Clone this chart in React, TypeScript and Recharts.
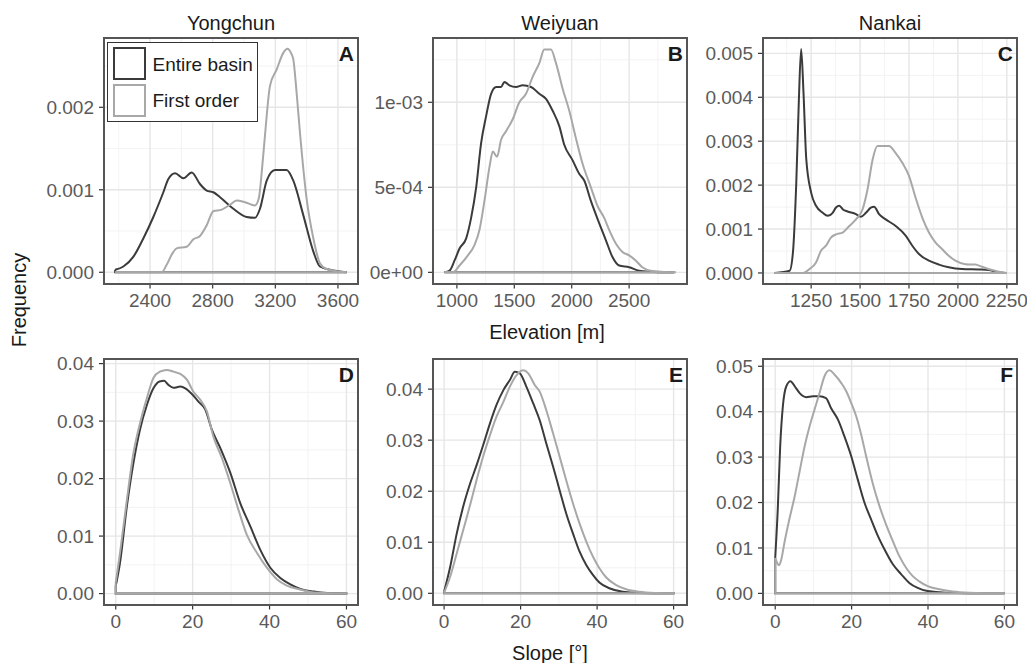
import { CartesianGrid, Line, LineChart, XAxis, YAxis } from "recharts"

type Pair = [number, number]
type Pt = { x: number; y: number }

const basinNames = ["Yongchun", "Weiyuan", "Nankai"]
const seriesNames = ["Entire basin", "First order"]
const panelLetters = ["A", "B", "C", "D", "E", "F"]

// elevation densities (x in m)
const yongchunElevBasin: Pair[] = [
  [2177, 0.00003], [2230, 0.00007], [2294, 0.00019], [2357, 0.00041], [2421, 0.00067],
  [2485, 0.00097], [2517, 0.00113], [2560, 0.0012], [2613, 0.00114], [2666, 0.00121],
  [2719, 0.00107], [2762, 0.00099], [2804, 0.00097], [2847, 0.00091], [2932, 0.00077],
  [3017, 0.00067], [3070, 0.00066], [3102, 0.00077], [3145, 0.00111], [3198, 0.00124],
  [3272, 0.00124], [3315, 0.00111], [3379, 0.00069], [3443, 0.00025], [3485, 0.00007],
  [3549, 0.00003], [3655, 0],
]
const yongchunElevFirst: Pair[] = [
  [2177, 0], [2474, 0], [2506, 0.00009], [2540, 0.00022], [2570, 0.00029], [2634, 0.00031],
  [2677, 0.0004], [2719, 0.00044], [2762, 0.00057], [2804, 0.00074], [2858, 0.00076],
  [2911, 0.00082], [2953, 0.00087], [3006, 0.00085], [3070, 0.00081], [3095, 0.0009],
  [3115, 0.00125], [3134, 0.00166], [3166, 0.00226], [3209, 0.00246], [3251, 0.00266],
  [3277, 0.00271], [3300, 0.00266], [3315, 0.00258], [3335, 0.0022], [3357, 0.0017],
  [3400, 0.00089], [3443, 0.00041], [3485, 0.00011], [3528, 0.00004], [3655, 0],
]
const weiyuanElevBasin: Pair[] = [
  [893, 0], [936, 0.00001], [980, 0.00007], [1023, 0.00014], [1081, 0.0002], [1124, 0.00032],
  [1168, 0.0005], [1211, 0.00076], [1255, 0.00092], [1298, 0.00105], [1342, 0.00109],
  [1385, 0.00109], [1414, 0.00112], [1457, 0.0011], [1515, 0.00109], [1573, 0.0011],
  [1646, 0.00109], [1718, 0.00105], [1776, 0.00102], [1834, 0.00095], [1892, 0.00086],
  [1935, 0.00075], [2007, 0.00066], [2065, 0.00058], [2109, 0.00054], [2167, 0.00042],
  [2239, 0.00029], [2297, 0.00019], [2355, 0.00009], [2413, 0.00004], [2500, 0.00003],
  [2586, 0.00001], [2673, 0.000004], [2890, 0],
]
const weiyuanElevFirst: Pair[] = [
  [893, 0], [965, 0], [1023, 0.00004], [1096, 0.0001], [1153, 0.00016], [1197, 0.00025],
  [1240, 0.00042], [1284, 0.00062], [1313, 0.00071], [1350, 0.00068], [1385, 0.00078],
  [1428, 0.00083], [1486, 0.0009], [1544, 0.001], [1602, 0.00105], [1660, 0.00115],
  [1718, 0.00123], [1761, 0.00131], [1819, 0.00131], [1863, 0.00123], [1921, 0.00108],
  [1979, 0.00095], [2036, 0.00079], [2094, 0.00064], [2167, 0.0005], [2225, 0.00039],
  [2283, 0.00032], [2326, 0.00025], [2384, 0.00017], [2442, 0.00012], [2500, 0.0001],
  [2557, 0.00007], [2615, 0.00003], [2688, 0.00001], [2905, 0],
]
const nankaiElevBasin: Pair[] = [
  [1064, 0], [1140, 0.00005], [1157, 0.00047], [1174, 0.00205], [1187, 0.0039], [1199, 0.0051],
  [1211, 0.0041], [1225, 0.0026], [1250, 0.00183], [1275, 0.00153], [1309, 0.00137],
  [1335, 0.0013], [1360, 0.00137], [1377, 0.00149], [1394, 0.00153], [1414, 0.00144],
  [1436, 0.0014], [1479, 0.00134], [1504, 0.00128], [1530, 0.00137], [1555, 0.00149],
  [1572, 0.00151], [1597, 0.00134], [1631, 0.00122], [1682, 0.00107], [1733, 0.00085],
  [1767, 0.00062], [1801, 0.00043], [1852, 0.00028], [1903, 0.00019], [1953, 0.00013],
  [2021, 0.00009], [2106, 0.00008], [2157, 0.00007], [2200, 0.00002], [2240, 0],
]
const nankaiElevFirst: Pair[] = [
  [1064, 0], [1208, 0], [1242, 0.00009], [1275, 0.00024], [1301, 0.00051], [1326, 0.00062],
  [1352, 0.00081], [1377, 0.00088], [1411, 0.00092], [1445, 0.00107], [1479, 0.00122],
  [1513, 0.00145], [1538, 0.0019], [1564, 0.00258], [1589, 0.00289], [1623, 0.00289],
  [1648, 0.00289], [1682, 0.00273], [1716, 0.00251], [1750, 0.00221], [1784, 0.00171],
  [1818, 0.00126], [1852, 0.00092], [1886, 0.00069], [1920, 0.00054], [1953, 0.00039],
  [1987, 0.00028], [2038, 0.0002], [2089, 0.00019], [2123, 0.00014], [2165, 0.00008],
  [2208, 0.00003], [2250, 0],
]

// slope densities (x in degrees)
const yongchunSlopeBasin: Pair[] = [
  [0, 0.0013], [1.1, 0.0053], [2.9, 0.0152], [4.6, 0.0227], [6.3, 0.0285], [8.1, 0.0328],
  [9.8, 0.0357], [11.4, 0.0369], [12.6, 0.037], [13.7, 0.0363], [15.0, 0.0358], [16.8, 0.036],
  [18.1, 0.0357], [19.8, 0.0347], [21.5, 0.0334], [23.3, 0.032], [25.0, 0.0285], [27.2, 0.0253],
  [29.8, 0.021], [32.4, 0.0157], [35.0, 0.0117], [37.6, 0.0076], [40.2, 0.0045], [42.8, 0.0027],
  [45.4, 0.0016], [48.0, 0.0008], [51.5, 0.00035], [55, 0.0001], [60.2, 0],
]
const yongchunSlopeFirst: Pair[] = [
  [0, 0.0019], [1.1, 0.007], [2.9, 0.0163], [4.6, 0.0244], [6.3, 0.0296], [8.1, 0.034],
  [9.8, 0.0375], [11.5, 0.0386], [13.3, 0.0389], [15.0, 0.0386], [16.8, 0.0382], [18.5, 0.0372],
  [20.2, 0.0351], [22.0, 0.0337], [23.7, 0.0317], [25.4, 0.0273], [27.6, 0.0236], [29.8, 0.0192],
  [31.9, 0.0146], [34.1, 0.0102], [36.7, 0.0071], [39.3, 0.0045], [41.9, 0.0025], [44.5, 0.0014],
  [48.0, 0.0007], [51.5, 0.0002], [60.2, 0],
]
const weiyuanSlopeBasin: Pair[] = [
  [0, 0.0003], [1.6, 0.0052], [3.3, 0.0117], [5.0, 0.017], [6.8, 0.0215], [8.5, 0.0251],
  [10.2, 0.029], [12.0, 0.0333], [13.7, 0.0369], [15.5, 0.0398], [17.2, 0.0418], [18.5, 0.0434],
  [19.8, 0.0431], [21.5, 0.0405], [23.3, 0.0372], [25.0, 0.0339], [26.7, 0.0294], [28.5, 0.0248],
  [30.2, 0.0202], [31.9, 0.0157], [33.7, 0.0117], [35.4, 0.0082], [37.2, 0.0055], [38.9, 0.0036],
  [40.6, 0.0021], [43.2, 0.001], [46.7, 0.0003], [51, 0.00007], [60.2, 0],
]
const weiyuanSlopeFirst: Pair[] = [
  [0, 0.0001], [1.6, 0.0033], [3.3, 0.0078], [5.0, 0.0124], [6.8, 0.0173], [8.5, 0.0222],
  [10.2, 0.0268], [12.0, 0.031], [13.7, 0.0346], [15.5, 0.0375], [17.2, 0.0405], [18.9, 0.0427],
  [20.7, 0.0437], [22.0, 0.0431], [23.7, 0.0408], [25.0, 0.0395], [26.7, 0.0359], [28.5, 0.0313],
  [30.2, 0.0268], [31.9, 0.0222], [33.7, 0.0176], [35.4, 0.0137], [37.2, 0.0101], [38.9, 0.0072],
  [40.6, 0.0049], [42.4, 0.0031], [45.0, 0.0016], [47.6, 0.0008], [51, 0.0003], [55.4, 0.00007],
  [60.2, 0],
]
const nankaiSlopeBasin: Pair[] = [
  [0, 0.0078], [0.7, 0.0192], [1.3, 0.0324], [2.0, 0.0412], [2.9, 0.0456], [4.0, 0.0467],
  [5.1, 0.0456], [6.4, 0.0441], [8.1, 0.0432], [9.9, 0.0434], [11.6, 0.0434], [13.3, 0.043],
  [14.6, 0.0408], [16.4, 0.0383], [18.1, 0.0346], [19.9, 0.0302], [21.6, 0.0251], [23.4, 0.0199],
  [25.1, 0.0163], [26.9, 0.0126], [28.6, 0.0097], [30.8, 0.0064], [33.0, 0.0042], [35.1, 0.0023],
  [37.3, 0.0012], [39.9, 0.0005], [44.7, 0.00015], [60, 0],
]
const nankaiSlopeFirst: Pair[] = [
  [0, 0.0078], [0.4, 0.0069], [1.0, 0.0062], [1.6, 0.0075], [2.4, 0.0111], [3.7, 0.0163],
  [5.1, 0.0214], [6.4, 0.0269], [7.7, 0.0324], [9.0, 0.0368], [10.3, 0.0405], [11.6, 0.0441],
  [12.9, 0.0478], [14.2, 0.0491], [15.5, 0.0482], [17.3, 0.0463], [18.6, 0.0445], [19.9, 0.0419],
  [21.2, 0.039], [22.5, 0.035], [23.8, 0.0302], [25.5, 0.0243], [27.3, 0.0192], [29.0, 0.0152],
  [30.8, 0.0115], [32.5, 0.0082], [34.3, 0.0056], [36.0, 0.0038], [37.8, 0.0026], [39.9, 0.0016],
  [43.0, 0.0009], [46.5, 0.0004], [50.8, 0.00015], [60, 0],
]

// axis ticks
const yongchunElevXTicks = [2400, 2800, 3200, 3600]
const yongchunElevXMinor = [2200, 2600, 3000, 3400]
const yongchunElevYTicks = [0, 0.001, 0.002]
const yongchunElevYMinor = [0.0005, 0.0015, 0.0025]
const weiyuanElevXTicks = [1000, 1500, 2000, 2500]
const weiyuanElevXMinor = [1250, 1750, 2250, 2750]
const weiyuanElevYTicks = [0, 0.0005, 0.001]
const weiyuanElevYMinor = [0.00025, 0.00075, 0.00125]
const nankaiElevXTicks = [1250, 1500, 1750, 2000, 2250]
const nankaiElevXMinor = [1125, 1375, 1625, 1875, 2125]
const nankaiElevYTicks = [0, 0.001, 0.002, 0.003, 0.004, 0.005]
const nankaiElevYMinor = [0.0005, 0.0015, 0.0025, 0.0035, 0.0045]
const slopeXTicks = [0, 20, 40, 60]
const slopeXMinor = [10, 30, 50]
const slopeYTicks = [0, 0.01, 0.02, 0.03, 0.04]
const slopeYMinor = [0.005, 0.015, 0.025, 0.035]
const nankaiSlopeYTicks = [0, 0.01, 0.02, 0.03, 0.04, 0.05]
const nankaiSlopeYMinor = [0.005, 0.015, 0.025, 0.035, 0.045]

const DARK = "#3b3b3b"
const LIGHT = "#a8a8a8"
const FONT = '"Liberation Sans", Arial, Helvetica, sans-serif'

function sci(v: number) {
  if (v === 0) return "0e+00"
  const e = Math.floor(Math.log10(v) + 1e-9)
  const m = Math.round(v / Math.pow(10, e))
  const a = Math.abs(e)
  return `${m}e${e < 0 ? "-" : "+"}${a < 10 ? "0" + a : a}`
}

const fixed = (d: number) => (v: number) => v.toFixed(d)

type PanelDef = {
  letter: string
  basin: Pair[]
  first: Pair[]
  xDomain: [number, number]
  yDomain: [number, number]
  xTicks: number[]
  xMinor: number[]
  yTicks: number[]
  yMinor: number[]
  yFmt: (v: number) => string
  box: { x: number; y: number; w: number; h: number }
}

const colX = [104, 433, 763]
const rowY = [38.3, 359.3]
const PW = 254
const PH = 245.5

const panels: PanelDef[] = [
  {
    letter: panelLetters[0], basin: yongchunElevBasin, first: yongchunElevFirst,
    xDomain: [2106, 3728], yDomain: [-0.000136, 0.00284],
    xTicks: yongchunElevXTicks, xMinor: yongchunElevXMinor, yTicks: yongchunElevYTicks, yMinor: yongchunElevYMinor,
    yFmt: fixed(3), box: { x: colX[0], y: rowY[0], w: PW, h: PH },
  },
  {
    letter: panelLetters[1], basin: weiyuanElevBasin, first: weiyuanElevFirst,
    xDomain: [792, 3004], yDomain: [-0.0000656, 0.001378],
    xTicks: weiyuanElevXTicks, xMinor: weiyuanElevXMinor, yTicks: weiyuanElevYTicks, yMinor: weiyuanElevYMinor,
    yFmt: sci, box: { x: colX[1], y: rowY[0], w: PW, h: PH },
  },
  {
    letter: panelLetters[2], basin: nankaiElevBasin, first: nankaiElevFirst,
    xDomain: [1004, 2302], yDomain: [-0.00024, 0.00535],
    xTicks: nankaiElevXTicks, xMinor: nankaiElevXMinor, yTicks: nankaiElevYTicks, yMinor: nankaiElevYMinor,
    yFmt: fixed(3), box: { x: colX[2], y: rowY[0], w: PW, h: PH },
  },
  {
    letter: panelLetters[3], basin: yongchunSlopeBasin, first: yongchunSlopeFirst,
    xDomain: [-3.05, 63], yDomain: [-0.0019, 0.0408],
    xTicks: slopeXTicks, xMinor: slopeXMinor, yTicks: slopeYTicks, yMinor: slopeYMinor,
    yFmt: fixed(2), box: { x: colX[0], y: rowY[1], w: PW, h: PH },
  },
  {
    letter: panelLetters[4], basin: weiyuanSlopeBasin, first: weiyuanSlopeFirst,
    xDomain: [-2.9, 63.5], yDomain: [-0.00219, 0.0459],
    xTicks: slopeXTicks, xMinor: slopeXMinor, yTicks: slopeYTicks, yMinor: slopeYMinor,
    yFmt: fixed(2), box: { x: colX[1], y: rowY[1], w: PW, h: PH },
  },
  {
    letter: panelLetters[5], basin: nankaiSlopeBasin, first: nankaiSlopeFirst,
    xDomain: [-3.2, 63.3], yDomain: [-0.00245, 0.0516],
    xTicks: slopeXTicks, xMinor: slopeXMinor, yTicks: nankaiSlopeYTicks, yMinor: nankaiSlopeYMinor,
    yFmt: fixed(2), box: { x: colX[2], y: rowY[1], w: PW, h: PH },
  },
]

const toPts = (d: Pair[]): Pt[] => d.map(([x, y]) => ({ x, y }))
// the density outline is closed along y = 0, like ggplot's polygon
const baseOf = (d: Pair[]): Pt[] => [
  { x: d[d.length - 1][0], y: 0 },
  { x: d[0][0], y: 0 },
  { x: d[0][0], y: d[0][1] },
]

const YW = 80
const XH = 40
const MT = 10
const MR = 10

function Panel({ p }: { p: PanelDef }) {
  const w = p.box.w + YW + MR
  const h = p.box.h + MT + XH
  const tickStyle = { fill: "#5a5a5a", fontSize: 19, fontFamily: FONT }
  return (
    <div style={{ position: "absolute", left: p.box.x - YW, top: p.box.y - MT, width: w, height: h }}>
      <LineChart width={w} height={h} margin={{ top: MT, right: MR, bottom: 0, left: 0 }}>
        <CartesianGrid stroke="#f2f2f2" strokeWidth={0.9} horizontalValues={p.yMinor} verticalValues={p.xMinor} />
        <CartesianGrid stroke="#e6e6e6" strokeWidth={1.4} horizontalValues={p.yTicks} verticalValues={p.xTicks} />
        <XAxis
          type="number" dataKey="x" domain={p.xDomain} ticks={p.xTicks} interval={0} allowDataOverflow
          height={XH} axisLine={false} tickLine={{ stroke: "#333", strokeWidth: 1.2 }} tickSize={5} tickMargin={5}
          tick={tickStyle}
        />
        <YAxis
          type="number" dataKey="y" domain={p.yDomain} ticks={p.yTicks} interval={0} allowDataOverflow
          width={YW} axisLine={false} tickLine={{ stroke: "#333", strokeWidth: 1.2 }} tickSize={5} tickMargin={5}
          tick={tickStyle} tickFormatter={p.yFmt}
        />
        <Line data={baseOf(p.basin)} dataKey="y" type="linear" stroke={DARK} strokeWidth={2} dot={false} isAnimationActive={false} />
        <Line data={toPts(p.basin)} dataKey="y" type="monotone" stroke={DARK} strokeWidth={2} dot={false} isAnimationActive={false} />
        <Line data={baseOf(p.first)} dataKey="y" type="linear" stroke={LIGHT} strokeWidth={2} dot={false} isAnimationActive={false} />
        <Line data={toPts(p.first)} dataKey="y" type="monotone" stroke={LIGHT} strokeWidth={2} dot={false} isAnimationActive={false} />
      </LineChart>
      <div
        style={{
          position: "absolute", left: YW - 1, top: MT - 1, width: p.box.w + 2, height: p.box.h + 2,
          border: "2px solid #555", boxSizing: "border-box", pointerEvents: "none",
        }}
      />
      <div
        style={{
          position: "absolute", left: YW, top: MT + 4.5, width: p.box.w - 4, textAlign: "right",
          fontSize: 21, fontWeight: "bold", lineHeight: 1, color: "#1a1a1a", fontFamily: FONT,
        }}
      >
        {p.letter}
      </div>
    </div>
  )
}

function Legend() {
  const key = (color: string, top: number) => (
    <div
      style={{
        position: "absolute", left: 5, top, width: 33, height: 33, border: `2px solid ${color}`,
        boxSizing: "border-box",
      }}
    />
  )
  const label = (text: string, top: number) => (
    <div style={{ position: "absolute", left: 45, top, fontSize: 19, lineHeight: 1, color: "#1a1a1a", whiteSpace: "nowrap" }}>
      {text}
    </div>
  )
  return (
    <div
      style={{
        position: "absolute", left: 106.5, top: 42, width: 151, height: 80, background: "#fff",
        border: "1px solid #333", boxSizing: "border-box", fontFamily: FONT,
      }}
    >
      {key(DARK, 4)}
      {key(LIGHT, 41)}
      {label(seriesNames[0], 11.5)}
      {label(seriesNames[1], 47.5)}
    </div>
  )
}

export default function App() {
  const axisTitle = { position: "absolute" as const, width: 200, textAlign: "center" as const, fontSize: 20, lineHeight: 1, color: "#1a1a1a" }
  return (
    <div
      style={{
        position: "absolute", left: 0, top: 0, width: 1030, height: 663, background: "#fff",
        fontFamily: FONT, overflow: "hidden",
      }}
    >
      {basinNames.map((name, i) => (
        <div
          key={name}
          style={{
            position: "absolute", left: colX[i], top: 13, width: PW, textAlign: "center",
            fontSize: 20, lineHeight: 1, color: "#1a1a1a",
          }}
        >
          {name}
        </div>
      ))}
      {panels.map((p) => (
        <Panel key={p.letter} p={p} />
      ))}
      <Legend />
      <div style={{ ...axisTitle, left: 447, top: 321.5 }}>Elevation [m]</div>
      <div style={{ ...axisTitle, left: 450, top: 643 }}>Slope [°]</div>
      <div
        style={{
          position: "absolute", left: 19 - 60, top: 300 - 10, width: 120, height: 20, textAlign: "center",
          fontSize: 20, lineHeight: "20px", color: "#1a1a1a", transform: "rotate(-90deg)",
        }}
      >
        Frequency
      </div>
    </div>
  )
}
